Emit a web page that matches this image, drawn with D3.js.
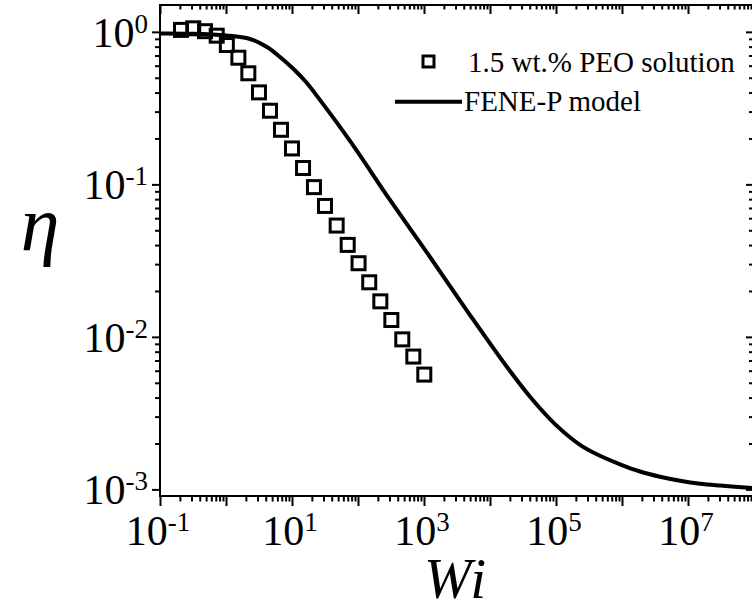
<!DOCTYPE html>
<html>
<head>
<meta charset="utf-8">
<script src="https://cdn.jsdelivr.net/npm/d3@7"></script>
<style>
body{margin:0;background:#fff}
svg{display:block}
text{font-family:"Liberation Serif","Times New Roman",serif;fill:#000}
</style>
</head>
<body>
<div id="chart"></div>
<script>
// measured points, 1.5 wt.% PEO solution
let wiData  = [0.208,0.319,0.481,0.723,1.03,1.54,2.18,3.16,4.64,6.81,10.0,14.7,21.5,31.6,47.5,69.8,102,148,218,320,469,689,1010]
let etaData = [1.03,1.055,1.01,0.944,0.82,0.677,0.535,0.401,0.304,0.228,0.172,0.128,0.0959,0.0722,0.0537,0.0401,0.0304,0.0228,0.0171,0.0129,0.00963,0.00743,0.00566]

// FENE-P model curve
let wiModel  = [0.1,0.316,1,2.31,4.18,6.58,10.35,16.3,26.5,75.6,305,1233,4977,18100,40400,96600,231000,464000,933000,1.87e6,3.77e6,7.57e6,1.52e7,3.05e7,1e8]
let etaModel = [0.976,0.972,0.947,0.898,0.796,0.684,0.575,0.469,0.358,0.1926,0.079,0.0334,0.0139,0.00634,0.00405,0.00268,0.00196,0.00166,0.00146,0.00131,0.00121,0.00114,0.00109,0.00106,0.00102]

let xLabelExp = [-1,1,3,5,7]
let yLabelExp = [0,-1,-2,-3]
let seriesNames = ['1.5 wt.% PEO solution','FENE-P model']

let W = 752, H = 610
let pLeft = 160, pRight = 754, pTop = 5, pBottom = 496

let svg = d3.select('#chart').append('svg')
	.attr('width',W).attr('height',H)

let x = d3.scaleLog().domain([0.1,1e8]).range([pLeft,pRight])
let y = d3.scaleLog().domain([9.05e-4,1.5]).range([pBottom,pTop])

// tick positions
let isDecade = function(d){ return Math.abs(Math.log10(d) - Math.round(Math.log10(d))) < 1e-6 }
let xMajor = d3.range(-1,9).map(function(e){ return Math.pow(10,e) })
let xMinor = x.ticks(40).filter(function(d){ return !isDecade(d) })
let yMajor = [1,0.1,0.01,0.001]
let yMinor = y.ticks(40).filter(function(d){ return !isDecade(d) })

function tickAxis(axis, vals, size, tr){
	let g = svg.append('g')
		.attr('transform',tr)
		.call(axis.tickValues(vals).tickSizeInner(size).tickSizeOuter(0).tickFormat(''))
	g.select('.domain').remove()
	g.selectAll('line').attr('stroke','#000').attr('stroke-width',2)
}

// bottom (outward), top (inward), left (outward), right (inward)
tickAxis(d3.axisBottom(x), xMajor, 10, 'translate(0,'+pBottom+')')
tickAxis(d3.axisBottom(x), xMinor, 5.5, 'translate(0,'+pBottom+')')
tickAxis(d3.axisTop(x), xMajor, -9, 'translate(0,'+pTop+')')
tickAxis(d3.axisTop(x), xMinor, -4.5, 'translate(0,'+pTop+')')
tickAxis(d3.axisLeft(y), yMajor, 8, 'translate('+pLeft+',0)')
tickAxis(d3.axisLeft(y), yMinor, 5, 'translate('+pLeft+',0)')
tickAxis(d3.axisRight(y), yMajor, -8, 'translate('+pRight+',0)')
tickAxis(d3.axisRight(y), yMinor, -5, 'translate('+pRight+',0)')

// frame
svg.append('rect')
	.attr('x',pLeft).attr('y',pTop)
	.attr('width',pRight-pLeft).attr('height',pBottom-pTop)
	.attr('fill','none').attr('stroke','#000').attr('stroke-width',2)

// tick labels
let xl = svg.append('g').selectAll('text')
	.data(xLabelExp).enter().append('text')
	.attr('x',function(d){ return x(Math.pow(10,d)) - 2 })
	.attr('y',545)
	.attr('text-anchor','middle')
	.style('font-size','42px')
xl.append('tspan').text('10')
xl.append('tspan').attr('dy',-14).style('font-size','27px').text(function(d){ return String(d) })

let yl = svg.append('g').selectAll('text')
	.data(yLabelExp).enter().append('text')
	.attr('x',148)
	.attr('y',function(d){ return y(Math.pow(10,d)) + 15 })
	.attr('text-anchor','end')
	.style('font-size','42px')
yl.append('tspan').text('10')
yl.append('tspan').attr('dy',-14).style('font-size','27px').text(function(d){ return String(d) })

// axis titles
svg.append('text')
	.attr('x',456).attr('y',598)
	.attr('text-anchor','middle')
	.style('font-size','57px').style('font-style','italic')
	.style('letter-spacing','2px')
	.text('Wi')
svg.append('text')
	.attr('x',40).attr('y',250)
	.attr('text-anchor','middle')
	.style('font-size','78px').style('font-style','italic')
	.text('η')

// model curve
let line = d3.line()
	.x(function(d){ return x(d[0]) })
	.y(function(d){ return y(d[1]) })
	.curve(d3.curveCatmullRom.alpha(0.5))
svg.append('path')
	.datum(d3.zip(wiModel,etaModel))
	.attr('d',line)
	.attr('fill','none').attr('stroke','#000').attr('stroke-width',4)

// data markers
let s = 13
svg.append('g').selectAll('rect')
	.data(d3.zip(wiData,etaData)).enter().append('rect')
	.attr('x',function(d){ return x(d[0]) - s/2 })
	.attr('y',function(d){ return y(d[1]) - s/2 })
	.attr('width',s).attr('height',s)
	.attr('fill','none').attr('stroke','#000').attr('stroke-width',3)

// legend
let lg = svg.append('g')
lg.append('rect')
	.attr('x',423).attr('y',56).attr('width',11).attr('height',11)
	.attr('fill','none').attr('stroke','#000').attr('stroke-width',3)
lg.append('text').attr('x',468).attr('y',72).style('font-size','29px').text(seriesNames[0])
lg.append('line')
	.attr('x1',395).attr('x2',462).attr('y1',101.7).attr('y2',101.7)
	.attr('stroke','#000').attr('stroke-width',4)
lg.append('text').attr('x',464).attr('y',111).style('font-size','29px').text(seriesNames[1])
</script>
</body>
</html>
